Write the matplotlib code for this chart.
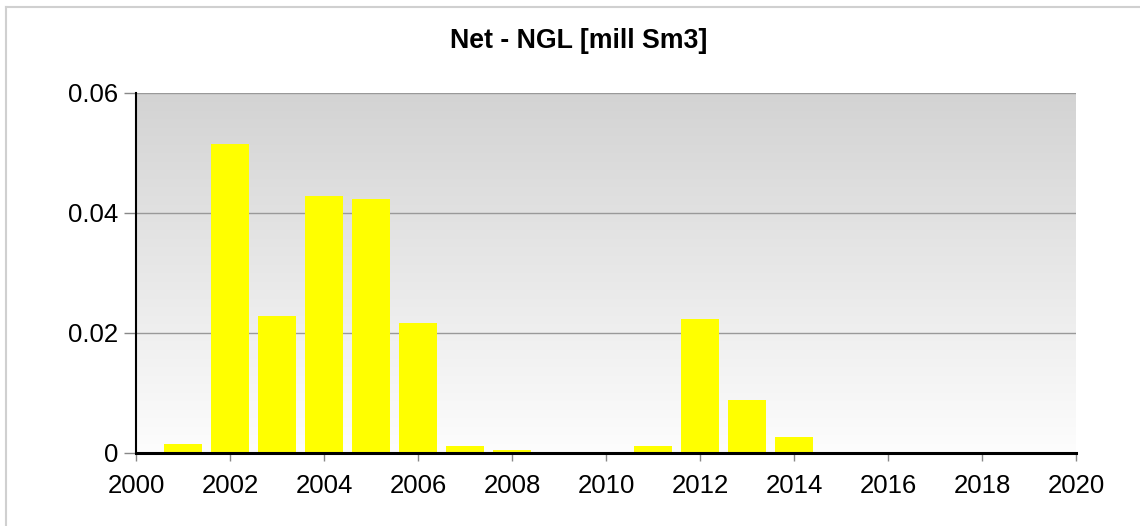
import numpy as np
import matplotlib
matplotlib.use("Agg")
import matplotlib.pyplot as plt
from matplotlib.lines import Line2D

years = [2001, 2002, 2003, 2004, 2005, 2006, 2007, 2008, 2009, 2010, 2011, 2012, 2013, 2014]
values = [0.00155, 0.0515, 0.0228, 0.0428, 0.0423, 0.0217, 0.0012, 0.0005, 0.0002, 0.0, 0.0011, 0.0224, 0.0088, 0.00275]
xticks = list(range(2000, 2021, 2))
yticks = [0, 0.02, 0.04, 0.06]
ytick_labels = ["0", "0.02", "0.04", "0.06"]
title = "Net - NGL [mill Sm3]"

plt.rcParams['font.family'] = ['Liberation Sans', 'DejaVu Sans']

fig = plt.figure(figsize=(11.4, 5.26), dpi=100)
ax = fig.add_axes([136/1140, 1-453/526, (1076-136)/1140, (453-93)/526])

# gradient background
grad = np.linspace(0, 1, 256).reshape(-1, 1)
cmap = matplotlib.colors.LinearSegmentedColormap.from_list("g", ["#fdfdfd", "#d3d3d3"])
ax.imshow(grad, aspect='auto', cmap=cmap, origin='lower', extent=[0, 1, 0, 1],
          transform=ax.transAxes, zorder=0)

ax.bar(years, values, width=0.8, color="#ffff00", zorder=3)

ax.set_xlim(2000, 2020)
ax.set_ylim(0, 0.06)
ax.set_xticks(xticks)
ax.set_xticklabels([str(x) for x in xticks])
ax.set_yticks(yticks)
ax.set_yticklabels(ytick_labels)
ax.yaxis.grid(True, color="#999999", linewidth=1.0, zorder=1)
ax.set_axisbelow(True)

for s in ["top", "right"]:
    ax.spines[s].set_visible(False)
ax.spines["left"].set_color("black")
ax.spines["left"].set_linewidth(1.5)
ax.spines["bottom"].set_color("black")
ax.spines["bottom"].set_linewidth(2.2)
ax.spines["left"].set_zorder(4)
ax.spines["bottom"].set_zorder(4)

ax.tick_params(axis='both', labelsize=18.5, colors="#888888", labelcolor="black",
               direction='out', width=1)
ax.tick_params(axis='y', length=9, pad=4)
ax.tick_params(axis='x', length=6, pad=9)

fig.text(0.508, 1-41/526, title, ha='center', va='center', fontsize=19.3, fontweight='bold')

# figure border lines
fig.add_artist(Line2D([6/1140, 1], [1-7/526, 1-7/526], color="#d0d0d0", linewidth=1.5, transform=fig.transFigure))
fig.add_artist(Line2D([6/1140, 6/1140], [0, 1-7/526], color="#d0d0d0", linewidth=1.5, transform=fig.transFigure))

fig.savefig("out.png", dpi=100, facecolor="white")
